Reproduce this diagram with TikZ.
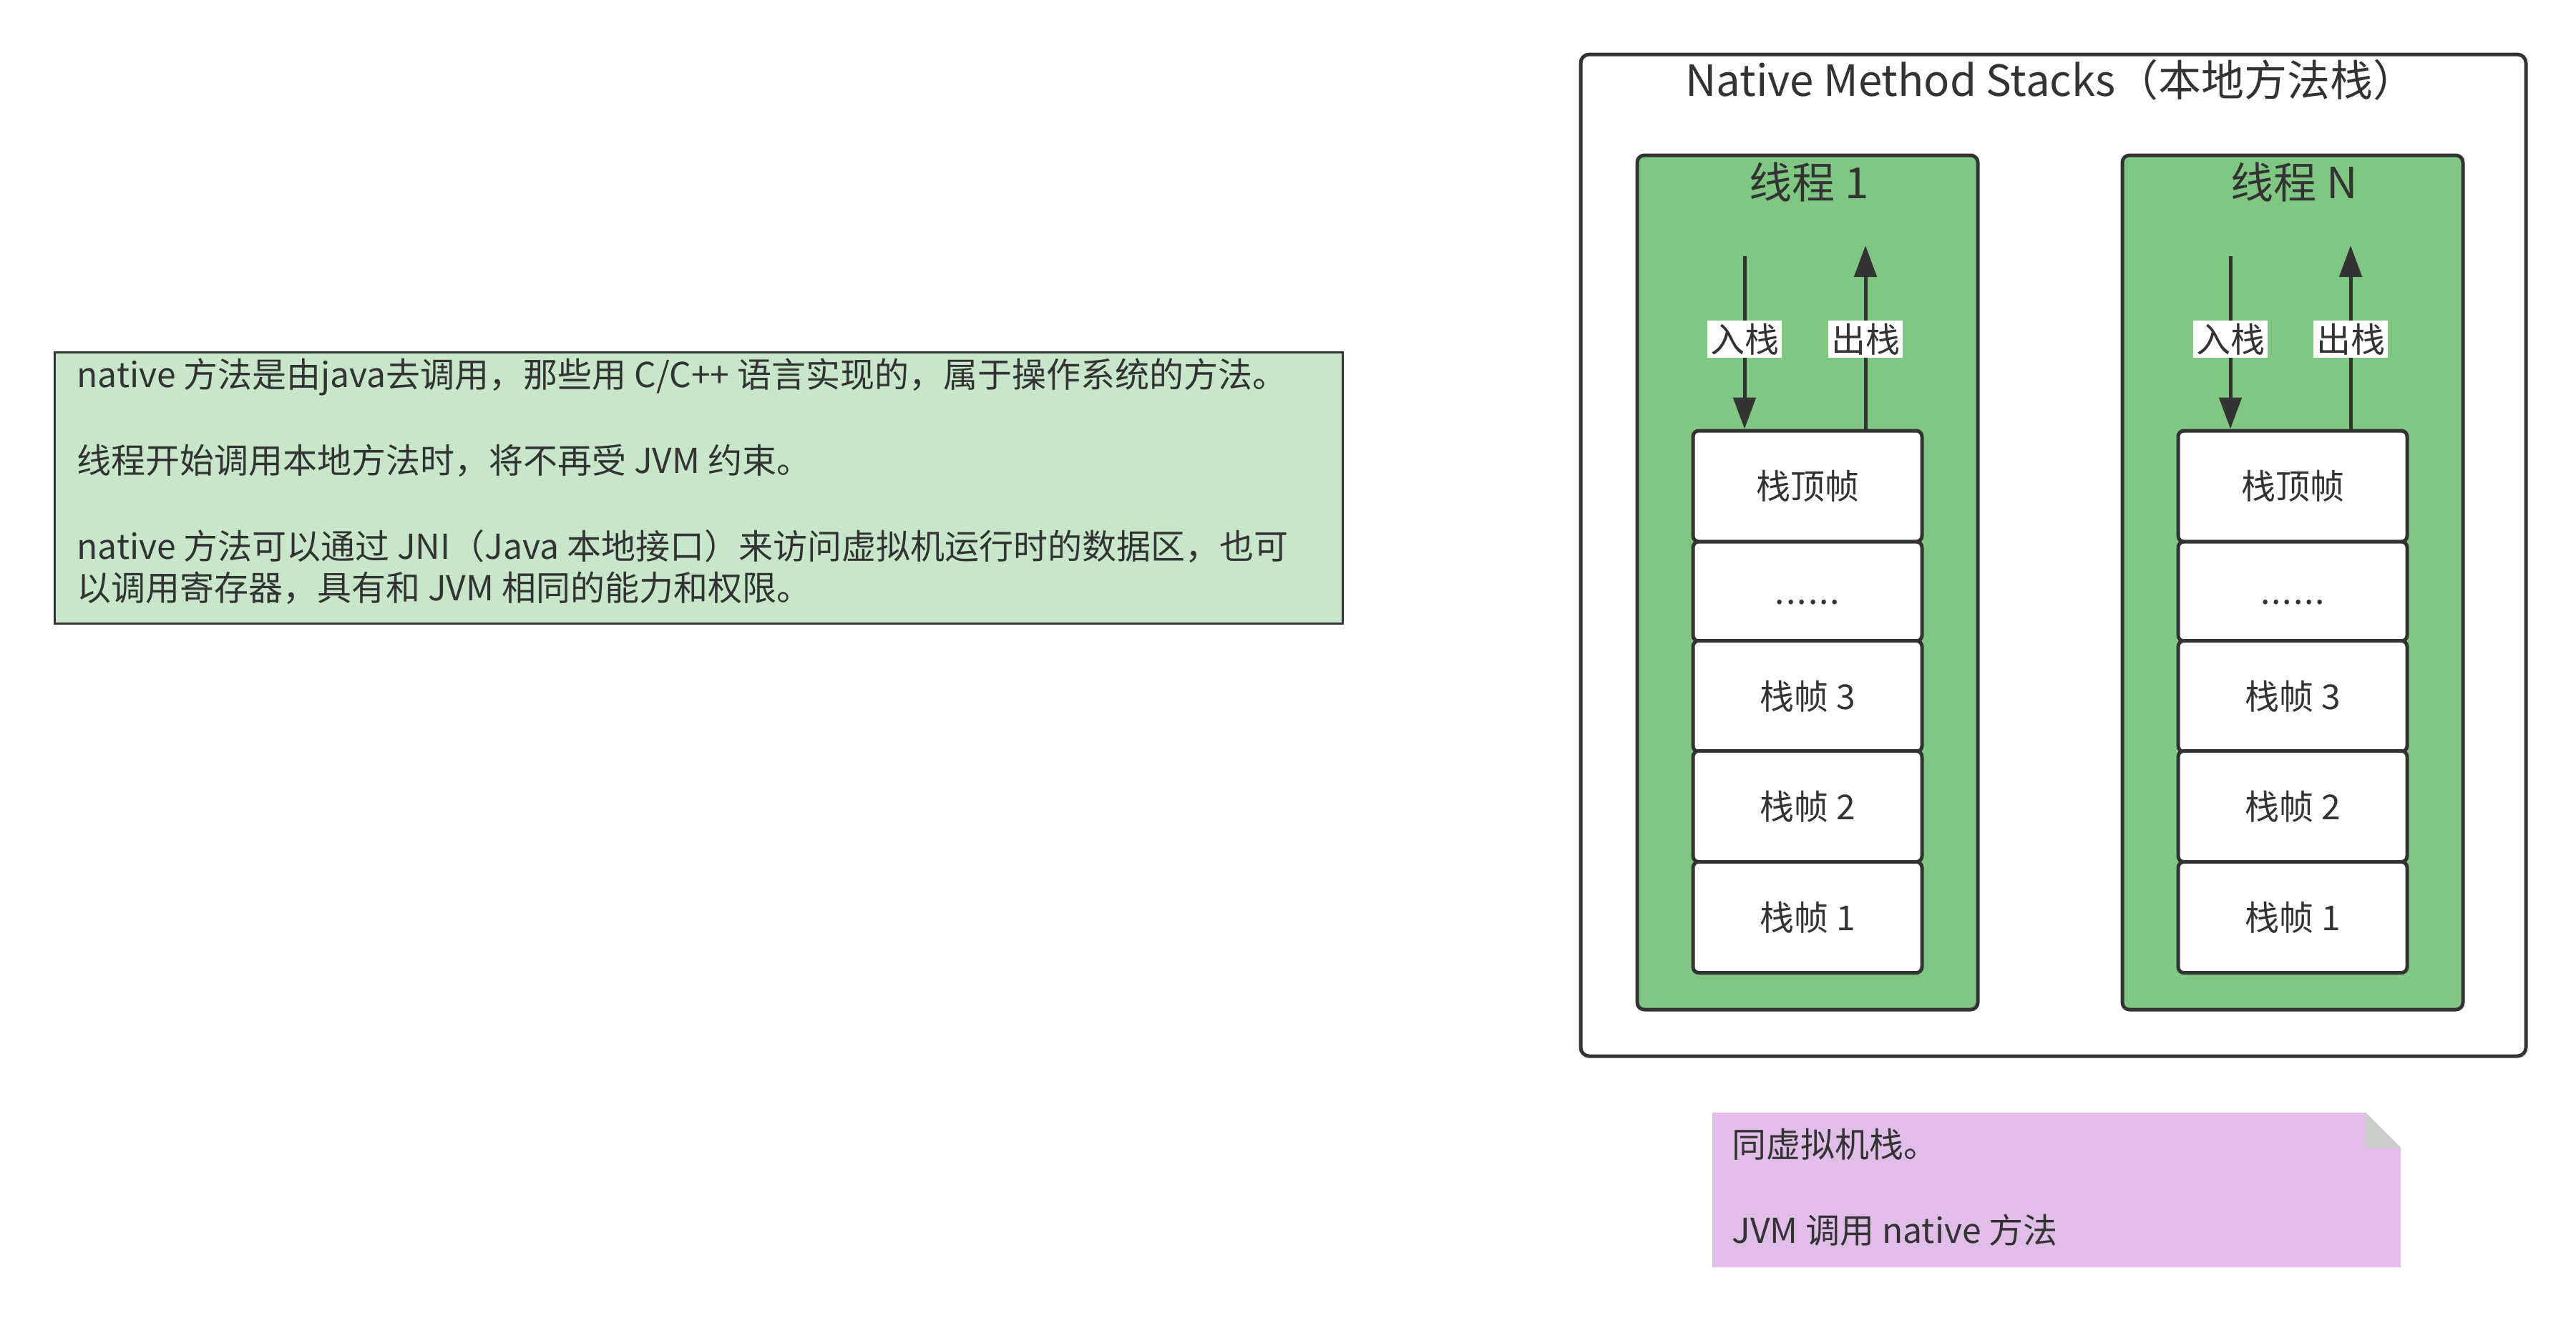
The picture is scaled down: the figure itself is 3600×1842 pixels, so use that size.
\documentclass[tikz,border=0pt]{standalone}
\usepackage{fontspec}
\setmainfont{Noto Sans CJK SC}
\usetikzlibrary{arrows.meta}

\definecolor{linegray}{HTML}{333333}
\definecolor{threadgreen}{HTML}{81C784}
\definecolor{notegreen}{HTML}{C8E6C9}
\definecolor{notepurple}{HTML}{E1BEE7}
\definecolor{foldgray}{HTML}{CCCCCC}

\tikzset{every picture/.style={line width=1.25pt}}
\tikzset{
  outerbox/.style={draw=linegray, fill=white, rounded corners=3pt, minimum width=330.25pt, minimum height=350pt, inner sep=0pt},
  threadbox/.style={draw=linegray, fill=threadgreen, rounded corners=2.5pt, minimum width=119pt, minimum height=298.5pt, inner sep=0pt},
  stackframe/.style={draw=linegray, fill=white, rounded corners=2pt, minimum width=80pt, minimum height=38.75pt, inner sep=0pt, text=linegray, font=\fontsize{12}{14}\selectfont},
  titletext/.style={text=linegray, inner sep=0pt, font=\fontsize{15}{18}\selectfont},
  pushlabel/.style={fill=white, text=linegray, inner sep=1pt, font=\fontsize{12}{14}\selectfont},
  stackarrow/.style={draw=linegray, -{Triangle[width=7.75pt,length=11pt]}},
  notetext/.style={text=linegray, align=left, inner sep=0pt, anchor=north west, font=\fontsize{12}{14.5}\selectfont}
}

\begin{document}
\begin{tikzpicture}[x=0.25pt,y=0.25pt,yscale=-1,xscale=1]
\useasboundingbox (0,0) rectangle (3600,1842);

%Shape: Rectangle (left note)
\node [draw=linegray, fill=notegreen, line width=0.75pt, minimum width=450pt, minimum height=94.75pt, inner sep=0pt, anchor=north west] (jninote) at (75,491) {};
% Text Node
\node [notetext] (jnitext) at (105,498) {native 方法是由java去调用，那些用 C/C++ 语言实现的，属于操作系统的方法。\\[15.5pt]
线程开始调用本地方法时，将不再受 JVM 约束。\\[15.5pt]
native 方法可以通过 JNI（Java 本地接口）来访问虚拟机运行时的数据区，也可\\
以调用寄存器，具有和 JVM 相同的能力和权限。};

%Shape: Rectangle (native method stacks)
\node [outerbox] (stacks) at (2869.5,776) {};
% Text Node
\node [titletext] (stackstitle) at (2866,112) {Native Method Stacks（本地方法栈）};

%Shape: Rectangle (thread 1)
\node [threadbox] (thread1) at (2526,814) {};
% Text Node
\node [titletext] (thread1title) at (2528,255) {线程 1};
%Shape: Rectangle (thread N)
\node [threadbox] (threadN) at (3204,814) {};
% Text Node
\node [titletext] (threadNtitle) at (3206,255) {线程 N};

% Stack frames, thread 1
\node [stackframe] (t1top) at (2526,679.5) {栈顶帧};
\node [stackframe, minimum height=34.75pt, text height=9pt, text depth=0pt] (t1dots) at (2526,826.5) {.\kern0.5pt.\kern0.5pt.\kern0.5pt.\kern0.5pt.\kern0.5pt.};
\node [stackframe] (t1f3) at (2526,973) {栈帧 3};
\node [stackframe] (t1f2) at (2526,1127) {栈帧 2};
\node [stackframe] (t1f1) at (2526,1282) {栈帧 1};
% Stack frames, thread N
\node [stackframe] (tNtop) at (3204,679.5) {栈顶帧};
\node [stackframe, minimum height=34.75pt, text height=9pt, text depth=0pt] (tNdots) at (3204,826.5) {.\kern0.5pt.\kern0.5pt.\kern0.5pt.\kern0.5pt.\kern0.5pt.};
\node [stackframe] (tNf3) at (3204,973) {栈帧 3};
\node [stackframe] (tNf2) at (3204,1127) {栈帧 2};
\node [stackframe] (tNf1) at (3204,1282) {栈帧 1};

%Straight Lines (push / pop)
\coordinate (t1in) at (2438,358);
\coordinate (t1out) at (2607,343);
\coordinate (tNin) at (3117,358);
\coordinate (tNout) at (3285,343);
\draw [stackarrow] (t1in) -- (t1in |- t1top.north) node [pushlabel, pos=0.48] (t1inlabel) {入栈};
\draw [stackarrow] (t1out |- t1top.north) -- (t1out) node [pushlabel, pos=0.49] (t1outlabel) {出栈};
\draw [stackarrow] (tNin) -- (tNin |- tNtop.north) node [pushlabel, pos=0.48] (tNinlabel) {入栈};
\draw [stackarrow] (tNout |- tNtop.north) -- (tNout) node [pushlabel, pos=0.49] (tNoutlabel) {出栈};

%Shape: Note (purple)
\fill [notepurple] (2393,1555) -- (3306,1555) -- (3355,1604) -- (3355,1771) -- (2393,1771) -- cycle;
\fill [foldgray] (3306,1555) -- (3355,1604) -- (3306,1604) -- cycle;
% Text Node
\node [notetext] (jvmnote) at (2418,1575) {同虚拟机栈。\\[15.5pt]
JVM 调用 native 方法};

\end{tikzpicture}
\end{document}
